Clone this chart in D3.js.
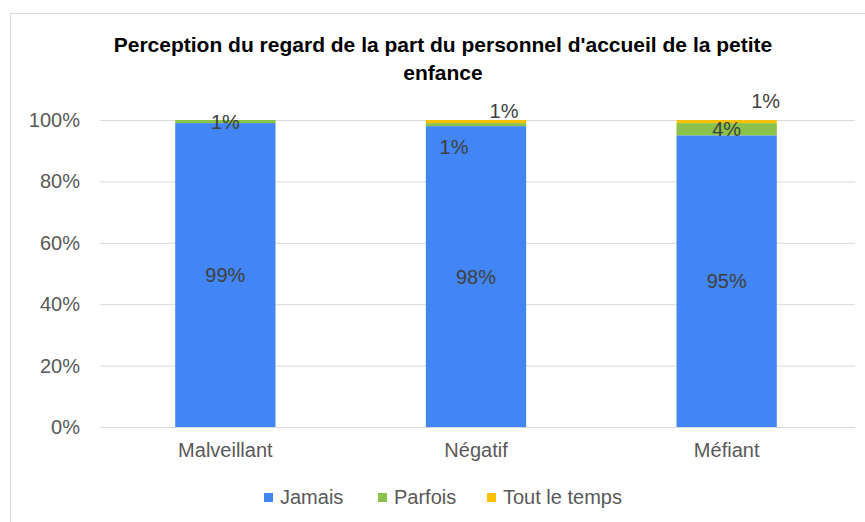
<!DOCTYPE html>
<html><head><meta charset="utf-8">
<script src="https://cdn.jsdelivr.net/npm/d3@7"></script>
<style>body{margin:0;background:#fff}svg{display:block}</style>
</head><body>
<svg id="c" width="865" height="522"></svg>
<script>
const categories = ["Malveillant", "Négatif", "Méfiant"];
const seriesNames = ["Jamais", "Parfois", "Tout le temps"];
const jamais = [99, 98, 95];
const parfois = [1, 1, 4];
const toutLeTemps = [0, 1, 1];
const yTicks = [0, 20, 40, 60, 80, 100];
const colors = ["#4285F4", "#8BC34A", "#FFC000"];

const svg = d3.select("#c");
const lf = "Liberation Sans, Arial, sans-serif";
// chart frame
svg.append("rect").attr("x", 10.5).attr("y", 13.5).attr("width", 870).attr("height", 520)
  .attr("fill", "none").attr("stroke", "#d9d9d9");

const x = d3.scaleBand().domain(categories).range([100, 852]).paddingInner(0.6).paddingOuter(0.3);
const y = d3.scaleLinear().domain([0, 100]).range([427, 120]);

// gridlines
svg.append("g").selectAll("line").data(yTicks).join("line")
  .attr("x1", 100).attr("x2", 855).attr("y1", d => y(d) + 0.5).attr("y2", d => y(d) + 0.5)
  .attr("stroke", "#d9d9d9").attr("stroke-width", 1);

// y labels
const yAxis = d3.axisLeft(y).tickValues(yTicks).tickFormat(d => d + "%").tickSize(0).tickPadding(0);
const ya = svg.append("g").attr("transform", "translate(80,0)").call(yAxis);
ya.select(".domain").remove();
ya.selectAll("text").attr("font-family", lf).attr("font-size", 20).attr("fill", "#595959");

// stacked data
const rows = categories.map((c, i) => ({cat: c, "Jamais": jamais[i], "Parfois": parfois[i], "Tout le temps": toutLeTemps[i]}));
const stack = d3.stack().keys(seriesNames)(rows);

svg.append("g").selectAll("g").data(stack).join("g").attr("fill", (d, i) => colors[i])
  .selectAll("rect").data(d => d).join("rect")
  .attr("x", d => x(d.data.cat)).attr("width", x.bandwidth())
  .attr("y", d => y(d[1])).attr("height", d => Math.max(0, y(d[0]) - y(d[1])));

// x labels
const xAxis = d3.axisBottom(x).tickSize(0).tickPadding(0);
const xa = svg.append("g").attr("transform", "translate(0,443)").call(xAxis);
xa.select(".domain").remove();
xa.selectAll("text").attr("font-family", lf).attr("font-size", 20).attr("fill", "#595959");

// data labels
const labels = [];
stack.forEach((s, si) => s.forEach((d, ci) => {
  const v = d.data[seriesNames[si]];
  if (v > 0) labels.push({si, ci, v, d});
}));
// key: seriesIndex-categoryIndex
const offsets = {
  "1-1": [-22, 22], "2-1": [28, -11], "2-2": [39, -21]
};
const off = l => offsets[l.si + "-" + l.ci] || [0, 0];
svg.append("g").selectAll("text").data(labels).join("text")
  .attr("x", l => x(categories[l.ci]) + x.bandwidth() / 2 + off(l)[0])
  .attr("y", l => (y(l.d[0]) + y(l.d[1])) / 2 + off(l)[1])
  .attr("dy", "0.35em").attr("text-anchor", "middle")
  .attr("font-family", lf).attr("font-size", 20).attr("fill", "#404040")
  .text(l => l.v + "%");

// title
const title = svg.append("text").attr("text-anchor", "middle").attr("font-family", lf)
  .attr("font-weight", "bold").attr("font-size", 21).attr("fill", "#000");
title.append("tspan").attr("x", 443).attr("y", 52).text("Perception du regard de la part du personnel d'accueil de la petite");
title.append("tspan").attr("x", 443).attr("y", 80).text("enfance");

// legend
const leg = svg.append("g").selectAll("g").data(seriesNames).join("g")
  .attr("transform", (d, i) => `translate(${[264, 378, 487][i]},497)`);
leg.append("rect").attr("x", 0).attr("y", -4).attr("width", 9).attr("height", 9).attr("fill", (d, i) => colors[i]);
leg.append("text").attr("x", 16).attr("dy", "0.35em").attr("font-family", lf).attr("font-size", 20)
  .attr("fill", "#595959").text(d => d);
</script>
</body></html>
